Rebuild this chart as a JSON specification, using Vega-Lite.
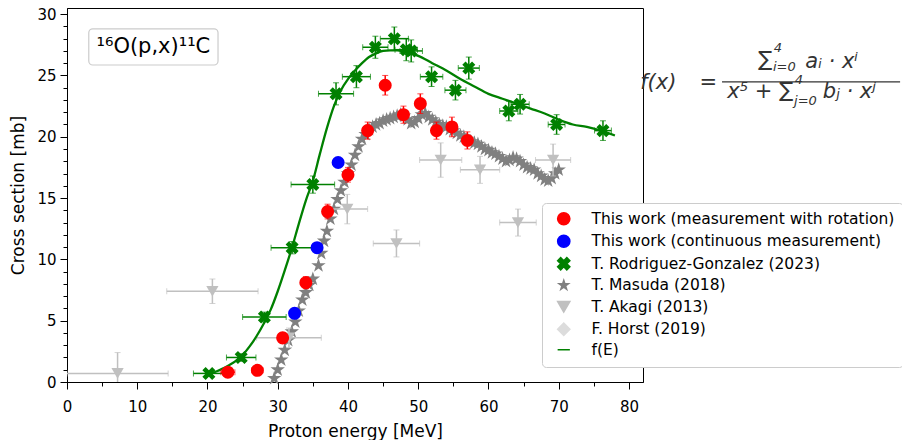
{
  "$schema": "https://vega.github.io/schema/vega-lite/v6.json",
  "width": 576,
  "height": 374,
  "autosize": {"type": "none"},
  "padding": {"left": 67, "top": 8, "right": 259, "bottom": 58},
  "background": "white",
  "config": {
    "font": "DejaVu Sans",
    "view": {"stroke": "#000000", "strokeWidth": 1},
    "axis": {"grid": false, "domainColor": "#000", "tickColor": "#000", "labelColor": "#000", "titleColor": "#000", "labelFontSize": 15, "titleFontSize": 17, "titleFontWeight": "normal", "labelFont": "DejaVu Sans", "titleFont": "DejaVu Sans", "tickWidth": 1, "domainWidth": 1}
  },
  "datasets": {
    "red": [
      {"series": "rot", "x": 22.9, "y": 0.8, "xe": 1.0, "ye": 0.3},
      {"series": "rot", "x": 27.1, "y": 0.95, "xe": 0.8, "ye": 0.3},
      {"series": "rot", "x": 30.7, "y": 3.6, "xe": 0.6, "ye": 0.4},
      {"series": "rot", "x": 34.0, "y": 8.1, "xe": 0.5, "ye": 0.5},
      {"series": "rot", "x": 37.1, "y": 13.9, "xe": 0.5, "ye": 0.6},
      {"series": "rot", "x": 40.0, "y": 16.9, "xe": 0.4, "ye": 0.6},
      {"series": "rot", "x": 42.8, "y": 20.5, "xe": 0.4, "ye": 0.7},
      {"series": "rot", "x": 45.3, "y": 24.2, "xe": 0.4, "ye": 0.8},
      {"series": "rot", "x": 47.9, "y": 21.8, "xe": 0.4, "ye": 0.7},
      {"series": "rot", "x": 50.3, "y": 22.7, "xe": 0.4, "ye": 0.8},
      {"series": "rot", "x": 52.6, "y": 20.5, "xe": 0.4, "ye": 0.7},
      {"series": "rot", "x": 54.8, "y": 20.8, "xe": 0.4, "ye": 0.8},
      {"series": "rot", "x": 57.0, "y": 19.7, "xe": 0.4, "ye": 0.7}
    ],
    "blue": [
      {"series": "cont", "x": 32.4, "y": 5.6},
      {"series": "cont", "x": 35.6, "y": 10.95},
      {"series": "cont", "x": 38.6, "y": 17.9}
    ],
    "green": [
      {"series": "rg", "x": 20.2, "y": 0.7, "xe": 2.2, "ye": 0.2},
      {"series": "rg", "x": 24.8, "y": 2.0, "xe": 2.1, "ye": 0.3},
      {"series": "rg", "x": 28.1, "y": 5.3, "xe": 3.1, "ye": 0.4},
      {"series": "rg", "x": 32.05, "y": 10.95, "xe": 3.0, "ye": 0.5},
      {"series": "rg", "x": 35.0, "y": 16.1, "xe": 3.1, "ye": 0.7},
      {"series": "rg", "x": 38.3, "y": 23.5, "xe": 2.5, "ye": 0.9},
      {"series": "rg", "x": 41.2, "y": 24.9, "xe": 2.0, "ye": 0.9},
      {"series": "rg", "x": 43.9, "y": 27.3, "xe": 1.8, "ye": 0.9},
      {"series": "rg", "x": 46.6, "y": 28.0, "xe": 2.0, "ye": 0.95},
      {"series": "rg", "x": 48.3, "y": 27.1, "xe": 1.6, "ye": 0.9},
      {"series": "rg", "x": 49.0, "y": 27.0, "xe": 1.6, "ye": 0.9},
      {"series": "rg", "x": 51.9, "y": 24.9, "xe": 1.6, "ye": 0.8},
      {"series": "rg", "x": 55.3, "y": 23.8, "xe": 1.5, "ye": 0.8},
      {"series": "rg", "x": 57.2, "y": 25.6, "xe": 1.5, "ye": 0.9},
      {"series": "rg", "x": 62.9, "y": 22.1, "xe": 1.3, "ye": 0.8},
      {"series": "rg", "x": 64.5, "y": 22.65, "xe": 1.3, "ye": 0.8},
      {"series": "rg", "x": 69.7, "y": 21.0, "xe": 1.2, "ye": 0.8},
      {"series": "rg", "x": 76.3, "y": 20.5, "xe": 1.2, "ye": 0.8}
    ],
    "akagi": [
      {"series": "aka", "x": 7.2, "y": 0.7, "xe": 7.2, "ye": 1.7},
      {"series": "aka", "x": 20.7, "y": 7.4, "xe": 6.5, "ye": 1.0},
      {"series": "aka", "x": 31.6, "y": 3.6, "xe": 4.6, "ye": 0.8},
      {"series": "aka", "x": 39.9, "y": 14.1, "xe": 2.9, "ye": 1.2},
      {"series": "aka", "x": 46.9, "y": 11.3, "xe": 3.3, "ye": 1.1},
      {"series": "aka", "x": 53.2, "y": 18.1, "xe": 3.0, "ye": 1.4},
      {"series": "aka", "x": 58.8, "y": 17.3, "xe": 2.8, "ye": 1.1},
      {"series": "aka", "x": 64.2, "y": 13.0, "xe": 2.6, "ye": 1.1},
      {"series": "aka", "x": 69.2, "y": 18.1, "xe": 2.5, "ye": 1.3}
    ],
    "masuda": [
      {"series": "mas", "x": 29.5, "y": 0.3}, {"series": "mas", "x": 30, "y": 1.0}, {"series": "mas", "x": 30.5, "y": 1.8},
      {"series": "mas", "x": 31, "y": 2.6}, {"series": "mas", "x": 31.5, "y": 3.4}, {"series": "mas", "x": 32, "y": 4.1},
      {"series": "mas", "x": 32.5, "y": 4.9}, {"series": "mas", "x": 33, "y": 5.8}, {"series": "mas", "x": 33.5, "y": 6.7},
      {"series": "mas", "x": 34, "y": 7.3}, {"series": "mas", "x": 34.5, "y": 7.9}, {"series": "mas", "x": 35, "y": 8.4},
      {"series": "mas", "x": 35.8, "y": 9.5}, {"series": "mas", "x": 36.2, "y": 10.5}, {"series": "mas", "x": 36.6, "y": 11.5},
      {"series": "mas", "x": 37, "y": 12.3}, {"series": "mas", "x": 37.5, "y": 13.3}, {"series": "mas", "x": 38, "y": 14.1},
      {"series": "mas", "x": 38.5, "y": 14.9}, {"series": "mas", "x": 39, "y": 15.6}, {"series": "mas", "x": 39.5, "y": 16.3},
      {"series": "mas", "x": 40, "y": 17.0}, {"series": "mas", "x": 40.5, "y": 17.7}, {"series": "mas", "x": 41, "y": 18.5},
      {"series": "mas", "x": 41.5, "y": 19.2}, {"series": "mas", "x": 42, "y": 19.8}, {"series": "mas", "x": 42.5, "y": 20.2},
      {"series": "mas", "x": 43, "y": 20.6}, {"series": "mas", "x": 43.5, "y": 20.8}, {"series": "mas", "x": 44, "y": 21.0},
      {"series": "mas", "x": 44.5, "y": 21.1}, {"series": "mas", "x": 45, "y": 21.3}, {"series": "mas", "x": 45.5, "y": 21.4},
      {"series": "mas", "x": 46, "y": 21.5}, {"series": "mas", "x": 46.5, "y": 21.6}, {"series": "mas", "x": 47, "y": 21.7},
      {"series": "mas", "x": 47.5, "y": 21.8}, {"series": "mas", "x": 48, "y": 21.7}, {"series": "mas", "x": 48.5, "y": 21.4},
      {"series": "mas", "x": 49, "y": 21.1}, {"series": "mas", "x": 49.5, "y": 21.2}, {"series": "mas", "x": 50, "y": 21.5},
      {"series": "mas", "x": 50.5, "y": 21.8}, {"series": "mas", "x": 51, "y": 21.9}, {"series": "mas", "x": 51.5, "y": 21.6},
      {"series": "mas", "x": 52, "y": 21.4}, {"series": "mas", "x": 52.5, "y": 21.2}, {"series": "mas", "x": 53, "y": 21.0},
      {"series": "mas", "x": 53.5, "y": 20.9}, {"series": "mas", "x": 54, "y": 20.8}, {"series": "mas", "x": 54.5, "y": 20.6},
      {"series": "mas", "x": 55, "y": 20.5}, {"series": "mas", "x": 55.5, "y": 20.3}, {"series": "mas", "x": 56, "y": 20.1},
      {"series": "mas", "x": 56.5, "y": 20.0}, {"series": "mas", "x": 57, "y": 19.8}, {"series": "mas", "x": 57.5, "y": 19.6},
      {"series": "mas", "x": 58, "y": 19.5}, {"series": "mas", "x": 58.5, "y": 19.4}, {"series": "mas", "x": 59, "y": 19.2},
      {"series": "mas", "x": 59.5, "y": 19.0}, {"series": "mas", "x": 60, "y": 18.9}, {"series": "mas", "x": 60.5, "y": 18.7},
      {"series": "mas", "x": 61, "y": 18.6}, {"series": "mas", "x": 61.5, "y": 18.4}, {"series": "mas", "x": 62, "y": 18.2},
      {"series": "mas", "x": 62.5, "y": 18.0}, {"series": "mas", "x": 63, "y": 18.1}, {"series": "mas", "x": 63.5, "y": 18.3},
      {"series": "mas", "x": 64, "y": 18.2}, {"series": "mas", "x": 64.5, "y": 18.0}, {"series": "mas", "x": 65, "y": 17.7},
      {"series": "mas", "x": 65.5, "y": 17.5}, {"series": "mas", "x": 66, "y": 17.4}, {"series": "mas", "x": 66.5, "y": 17.3},
      {"series": "mas", "x": 67, "y": 17.0}, {"series": "mas", "x": 67.5, "y": 16.8}, {"series": "mas", "x": 68, "y": 16.5},
      {"series": "mas", "x": 68.5, "y": 16.4}, {"series": "mas", "x": 69, "y": 16.6}, {"series": "mas", "x": 69.5, "y": 17.0},
      {"series": "mas", "x": 70, "y": 17.3}
    ],
    "fit": [
      {"series": "fit", "x": 20, "y": 0.55}, {"series": "fit", "x": 21, "y": 0.8}, {"series": "fit", "x": 22, "y": 1.05},
      {"series": "fit", "x": 23, "y": 1.35}, {"series": "fit", "x": 24, "y": 1.7}, {"series": "fit", "x": 25, "y": 2.2},
      {"series": "fit", "x": 26, "y": 2.9}, {"series": "fit", "x": 27, "y": 3.75}, {"series": "fit", "x": 28, "y": 4.75},
      {"series": "fit", "x": 29, "y": 5.9}, {"series": "fit", "x": 30, "y": 7.4}, {"series": "fit", "x": 31, "y": 9.1},
      {"series": "fit", "x": 32, "y": 10.9}, {"series": "fit", "x": 33, "y": 12.9}, {"series": "fit", "x": 34, "y": 14.8},
      {"series": "fit", "x": 35, "y": 16.4}, {"series": "fit", "x": 36, "y": 18.6}, {"series": "fit", "x": 37, "y": 20.7},
      {"series": "fit", "x": 38, "y": 22.5}, {"series": "fit", "x": 39, "y": 23.8}, {"series": "fit", "x": 40, "y": 24.7},
      {"series": "fit", "x": 41, "y": 25.4}, {"series": "fit", "x": 42, "y": 26.0}, {"series": "fit", "x": 43, "y": 26.5},
      {"series": "fit", "x": 44, "y": 26.8}, {"series": "fit", "x": 45, "y": 27.0}, {"series": "fit", "x": 46, "y": 27.05},
      {"series": "fit", "x": 47, "y": 27.05}, {"series": "fit", "x": 48, "y": 26.95}, {"series": "fit", "x": 49, "y": 26.8},
      {"series": "fit", "x": 50, "y": 26.6}, {"series": "fit", "x": 52, "y": 26.0}, {"series": "fit", "x": 54, "y": 25.4},
      {"series": "fit", "x": 56, "y": 24.7}, {"series": "fit", "x": 58, "y": 24.1}, {"series": "fit", "x": 60, "y": 23.5},
      {"series": "fit", "x": 62, "y": 23.1}, {"series": "fit", "x": 64, "y": 22.7}, {"series": "fit", "x": 66, "y": 22.3},
      {"series": "fit", "x": 68, "y": 21.9}, {"series": "fit", "x": 70, "y": 21.4}, {"series": "fit", "x": 72, "y": 21.0},
      {"series": "fit", "x": 74, "y": 20.8}, {"series": "fit", "x": 76, "y": 20.5}, {"series": "fit", "x": 78, "y": 20.1}
    ]
  },
  "encoding": {
    "x": {"field": "x", "type": "quantitative", "title": "Proton energy [MeV]",
      "scale": {"domain": [0, 82], "nice": false, "zero": false},
      "axis": {"values": [0, 5, 10, 15, 20, 25, 30, 35, 40, 45, 50, 55, 60, 65, 70, 75, 80],
        "labelExpr": "datum.value % 10 === 0 ? datum.label : ''",
        "tickSize": {"condition": {"test": "datum.value % 10 === 0", "value": 7}, "value": 4},
        "labelPadding": 10, "titlePadding": 9, "labelFlush": false, "labelOverlap": false}},
    "y": {"field": "y", "type": "quantitative", "title": "Cross section [mb]",
      "scale": {"domain": [0, 30.5], "nice": false, "zero": false},
      "axis": {"values": [0,1,2,3,4,5,6,7,8,9,10,11,12,13,14,15,16,17,18,19,20,21,22,23,24,25,26,27,28,29,30],
        "labelExpr": "datum.value % 5 === 0 ? datum.label : ''",
        "tickSize": {"condition": {"test": "datum.value % 5 === 0", "value": 7}, "value": 4},
        "labelPadding": 4, "titlePadding": 9, "labelFlush": false, "labelOverlap": false}}
  },
  "layer": [
    {
      "data": {"name": "masuda"},
      "mark": {"type": "point", "filled": true, "opacity": 1, "size": 360},
      "encoding": {
        "color": {"field": "series", "type": "nominal",
          "scale": {"domain": ["rot", "cont", "rg", "mas", "aka", "hor", "fit"], "range": ["#ff0000", "#0000ff", "#008000", "#808080", "#c0c0c0", "#dcdcdc", "#008000"]},
          "legend": {"orient": "none", "legendX": 475, "legendY": 195, "title": null,
            "fillColor": "white", "strokeColor": "#cccccc", "cornerRadius": 4, "padding": 8,
            "labelFont": "DejaVu Sans", "labelFontSize": 15.5, "labelColor": "#000", "labelLimit": 400,
            "symbolSize": 150, "rowPadding": 3.5, "labelOffset": 20, "symbolOffset": 6,
            "labelExpr": "{'rot':'This work (measurement with rotation)','cont':'This work (continuous measurement)','rg':'T. Rodriguez-Gonzalez (2023)','mas':'T. Masuda (2018)','aka':'T. Akagi (2013)','hor':'F. Horst (2019)','fit':'f(E)'}[datum.value]"}},
        "shape": {"field": "series", "type": "nominal",
          "scale": {"domain": ["rot", "cont", "rg", "mas", "aka", "hor", "fit"],
            "range": ["circle", "circle",
              "M-1,-0.5L-0.5,-1L0,-0.5L0.5,-1L1,-0.5L0.5,0L1,0.5L0.5,1L0,0.5L-0.5,1L-1,0.5L-0.5,0Z",
              "M0,-0.8L0.18,-0.25L0.76,-0.25L0.29,0.095L0.47,0.65L0,0.305L-0.47,0.65L-0.29,0.095L-0.76,-0.25L-0.18,-0.25Z",
              "triangle-down", "diamond", "stroke"]}}
      }
    },
    {
      "data": {"name": "akagi"},
      "mark": {"type": "errorbar", "ticks": {"color": "#c0c0c0", "size": 6}, "rule": {"color": "#c0c0c0", "strokeWidth": 1.5}, "clip": true},
      "encoding": {"xError": {"field": "xe"}}
    },
    {
      "data": {"name": "akagi"},
      "mark": {"type": "errorbar", "ticks": {"color": "#c0c0c0", "size": 6}, "rule": {"color": "#c0c0c0", "strokeWidth": 1.5}, "clip": true},
      "encoding": {"yError": {"field": "ye"}}
    },
    {
      "data": {"name": "akagi"},
      "mark": {"type": "point", "filled": true, "opacity": 1, "size": 150},
      "encoding": {"color": {"field": "series", "type": "nominal"}, "shape": {"field": "series", "type": "nominal"}}
    },
    {
      "data": {"name": "fit"},
      "mark": {"type": "line", "strokeWidth": 2.3, "interpolate": "monotone"},
      "encoding": {"color": {"field": "series", "type": "nominal"}}
    },
    {
      "data": {"name": "green"},
      "mark": {"type": "errorbar", "ticks": {"color": "#008000", "size": 6}, "rule": {"color": "#008000", "strokeWidth": 1.5}},
      "encoding": {"xError": {"field": "xe"}}
    },
    {
      "data": {"name": "green"},
      "mark": {"type": "errorbar", "ticks": {"color": "#008000", "size": 6}, "rule": {"color": "#008000", "strokeWidth": 1.5}},
      "encoding": {"yError": {"field": "ye"}}
    },
    {
      "data": {"name": "green"},
      "mark": {"type": "point", "filled": true, "opacity": 1, "size": 170},
      "encoding": {"color": {"field": "series", "type": "nominal"}, "shape": {"field": "series", "type": "nominal"}}
    },
    {
      "data": {"name": "blue"},
      "mark": {"type": "point", "filled": true, "opacity": 1, "size": 170},
      "encoding": {"color": {"field": "series", "type": "nominal"}, "shape": {"field": "series", "type": "nominal"}}
    },
    {
      "data": {"name": "red"},
      "mark": {"type": "errorbar", "ticks": {"color": "#ff0000", "size": 6}, "rule": {"color": "#ff0000", "strokeWidth": 1.5}},
      "encoding": {"xError": {"field": "xe"}}
    },
    {
      "data": {"name": "red"},
      "mark": {"type": "errorbar", "ticks": {"color": "#ff0000", "size": 6}, "rule": {"color": "#ff0000", "strokeWidth": 1.5}},
      "encoding": {"yError": {"field": "ye"}}
    },
    {
      "data": {"name": "red"},
      "mark": {"type": "point", "filled": true, "opacity": 1, "size": 170},
      "encoding": {"color": {"field": "series", "type": "nominal"}, "shape": {"field": "series", "type": "nominal"}}
    },
    {
      "data": {"values": [{"x": 3.1, "x2": 21.5, "y": 25.85, "y2": 28.8}]},
      "mark": {"type": "rect", "fill": "white", "stroke": "#cccccc", "strokeWidth": 1.2, "cornerRadius": 4},
      "encoding": {"x2": {"field": "x2"}, "y2": {"field": "y2"}}
    },
    {
      "data": {"values": [{"x": 12.3, "y": 27.3, "t": "¹⁶O(p,x)¹¹C"}]},
      "mark": {"type": "text", "fontSize": 21, "align": "center", "baseline": "middle", "color": "#000"},
      "encoding": {"text": {"field": "t"}}
    },
    {
      "data": {"values": [{"x": 81.6, "y": 24.4, "t": "f(x)"}, {"x": 105.1, "y": 26.1, "t": "aᵢ · xⁱ"}, {"x": 94.0, "y": 23.66, "t": "x⁵ +"}, {"x": 107.6, "y": 23.66, "t": "bⱼ · xʲ"}]},
      "mark": {"type": "text", "fontSize": 21, "align": "left", "baseline": "middle", "color": "#333", "fontStyle": "italic", "clip": false},
      "encoding": {"text": {"field": "t"}}
    },
    {
      "data": {"values": [{"x": 91.3, "y": 24.4, "t": "="}, {"x": 99.4, "y": 26.26, "t": "∑"}, {"x": 102.4, "y": 23.74, "t": "∑"}]},
      "mark": {"type": "text", "fontSize": 21, "align": "center", "baseline": "middle", "color": "#333"},
      "encoding": {"text": {"field": "t"}}
    },
    {
      "data": {"values": [{"x": 100.6, "y": 27.2, "t": "4"}, {"x": 100.5, "y": 25.7, "t": "i=0"}, {"x": 103.6, "y": 24.6, "t": "4"}, {"x": 103.5, "y": 22.9, "t": "j=0"}]},
      "mark": {"type": "text", "fontSize": 13, "align": "left", "baseline": "middle", "color": "#333", "fontStyle": "italic"},
      "encoding": {"text": {"field": "t"}}
    },
    {
      "data": {"values": [{"x": 93.25, "x2": 118.6, "y": 24.47}]},
      "mark": {"type": "rule", "color": "#333", "strokeWidth": 1.3},
      "encoding": {"x2": {"field": "x2"}}
    }
  ]
}
